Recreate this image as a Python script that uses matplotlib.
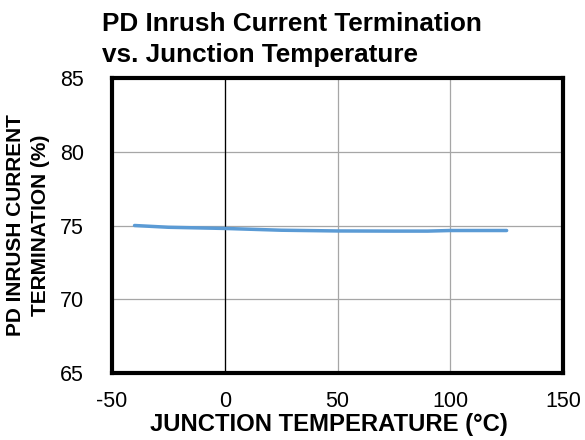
import matplotlib
matplotlib.use("Agg")
import matplotlib.pyplot as plt

# data
temp = [-40, -25, 0, 25, 50, 75, 90, 100, 125]
term = [75.0, 74.88, 74.8, 74.68, 74.63, 74.62, 74.62, 74.66, 74.66]

x_ticks = [-50, 0, 50, 100, 150]
y_ticks = [65, 70, 75, 80, 85]

plt.rcParams['font.family'] = ['Liberation Sans', 'DejaVu Sans']
plt.rcParams['axes.unicode_minus'] = False

fig = plt.figure(figsize=(5.85, 4.4), dpi=100)
ax = fig.add_axes([112/585, 1 - 373/440, (563-112)/585, (373-78)/440])

ax.plot(temp, term, color='#5B9BD5', lw=2.5, solid_capstyle='round', zorder=3)

ax.set_xlim(-50, 150)
ax.set_ylim(65, 85)
ax.set_xticks(x_ticks)
ax.set_yticks(y_ticks)
ax.tick_params(length=0, labelsize=15.5)
ax.tick_params(axis='x', pad=13)
ax.tick_params(axis='y', pad=20)
ax.grid(True, color='#A6A6A6', lw=0.9)
ax.axvline(0, color='black', lw=0.9, zorder=2)
for s in ax.spines.values():
    s.set_linewidth(3)
    s.set_color('black')

ax.set_xlabel('JUNCTION TEMPERATURE (°C)', fontsize=17.2, fontweight='bold',
              labelpad=1, x=0.481)
ax.set_ylabel('PD INRUSH CURRENT\nTERMINATION (%)', fontsize=15, fontweight='bold',
              linespacing=1.4, labelpad=7)

fig.text(102/585, 1 - 31/440, 'PD Inrush Current Termination',
         ha='left', va='baseline', fontsize=18.8, fontweight='bold')
fig.text(102/585, 1 - 62/440, 'vs. Junction Temperature',
         ha='left', va='baseline', fontsize=18.8, fontweight='bold')

fig.savefig('out.png', dpi=100)
